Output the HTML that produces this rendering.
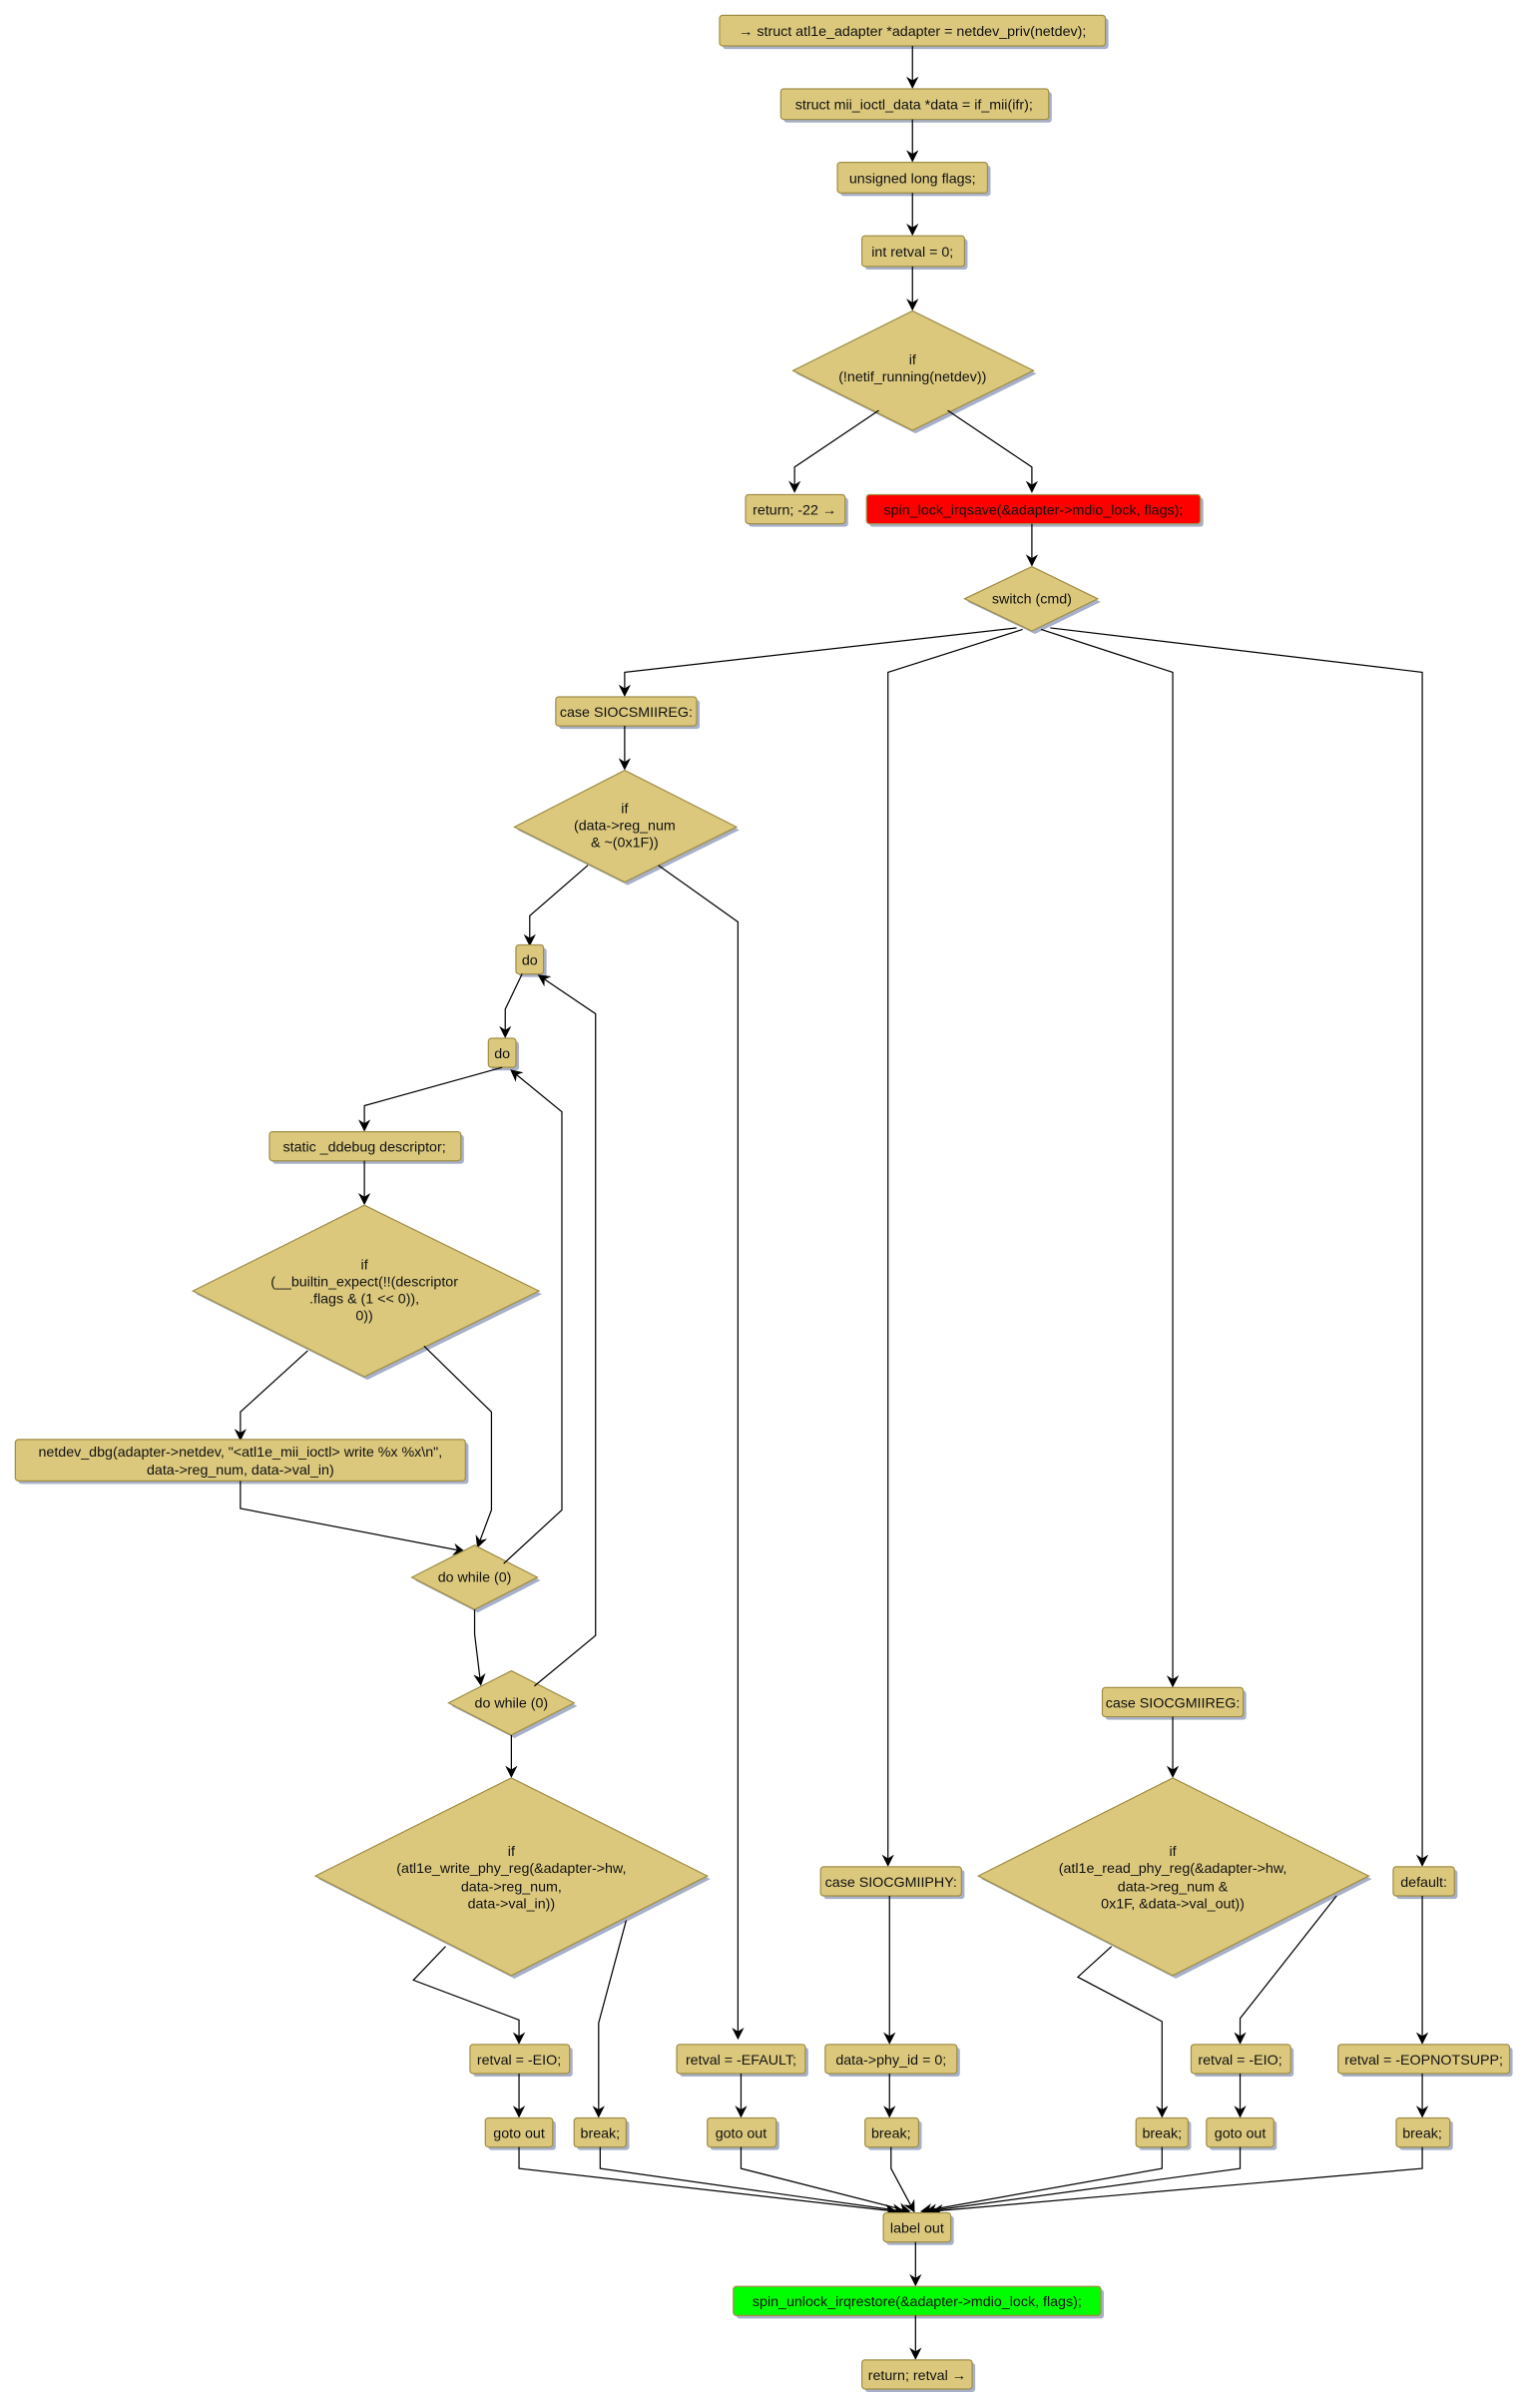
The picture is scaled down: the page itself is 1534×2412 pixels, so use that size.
<!DOCTYPE html>
<html><head><meta charset="utf-8"><style>
html,body{margin:0;padding:0;background:#fff;}
svg{display:block;}
text{font-family:"Liberation Sans","DejaVu Sans",sans-serif;font-size:9.3px;fill:#111;text-anchor:middle;}
.b{fill:#dbc87d;stroke:#a08e46;stroke-width:0.8;}
.sh{fill:#a7b0c8;}
.e{fill:none;stroke:#000;stroke-width:0.8;marker-end:url(#a);}
.n{fill:none;stroke:#000;stroke-width:0.8;}
</style></head><body>
<svg width="1534" height="2412" viewBox="0 0 1000 1572.4" xmlns="http://www.w3.org/2000/svg">
<defs><marker id="a" markerWidth="8" markerHeight="8" refX="7" refY="4" orient="auto" markerUnits="userSpaceOnUse"><path d="M0,0 L8,4 L0,8 L2.5,4 z" fill="#000"/></marker></defs>

<rect class="sh" x="472" y="12" width="252" height="20" rx="2"/><rect class="b" x="470" y="10" width="252" height="20" rx="2"/><text x="596" y="23.5">→ struct atl1e_adapter *adapter = netdev_priv(netdev);</text>
<path class="e" d="M596,30 V57"/>
<rect class="sh" x="512" y="60" width="175" height="20" rx="2"/><rect class="b" x="510" y="58" width="175" height="20" rx="2"/><text x="597" y="71.5">struct mii_ioctl_data *data = if_mii(ifr);</text>
<path class="e" d="M596,78 V105"/>
<rect class="sh" x="549" y="108" width="98" height="20" rx="2"/><rect class="b" x="547" y="106" width="98" height="20" rx="2"/><text x="596" y="119.5">unsigned long flags;</text>
<path class="e" d="M596,126 V153"/>
<rect class="sh" x="565" y="156" width="67" height="20" rx="2"/><rect class="b" x="563" y="154" width="67" height="20" rx="2"/><text x="596" y="167.5">int retval = 0;</text>
<path class="e" d="M596,174 V202"/>
<polygon class="sh" points="598,205 677,244 598,283 520,244"/><polygon class="b" points="596,203 675,242 596,281 518,242"/>
<text x="596" y="238">if</text><text x="596" y="249">(!netif_running(netdev))</text>
<path class="e" d="M574,268 L519,305 V321"/>
<path class="e" d="M619,268 L674,305 V321"/>
<rect class="sh" x="489" y="325" width="65" height="19" rx="2"/><rect class="b" x="487" y="323" width="65" height="19" rx="2"/><text x="519" y="336">return; -22 →</text>
<rect class="sh" x="568" y="325" width="218" height="19" rx="2"/><rect x="566" y="323" width="218" height="19" rx="2" fill="#ff0000" stroke="#a08e46" stroke-width="0.8"/><text x="675" y="336">spin_lock_irqsave(&amp;adapter-&gt;mdio_lock, flags);</text>
<path class="e" d="M674,342 V369"/>
<polygon class="sh" points="676,372 719,393 676,414 632,393"/><polygon class="b" points="674,370 717,391 674,412 630,391"/>
<text x="674" y="394">switch (cmd)</text>
<path class="e" d="M664,410 L408,439 V454"/>
<path class="e" d="M668,411 L580,439 V1218"/>
<path class="e" d="M680,411 L766,439 V1101"/>
<path class="e" d="M686,410 L929,439 V1218"/>

<rect class="sh" x="365" y="457" width="92" height="19" rx="2"/><rect class="b" x="363" y="455" width="92" height="19" rx="2"/><text x="409" y="468">case SIOCSMIIREG:</text>
<path class="e" d="M408,474 V502"/>
<polygon class="sh" points="410,505 483,542 410,578 338,542"/><polygon class="b" points="408,503 481,540 408,576 336,540"/>
<text x="408" y="531">if</text><text x="408" y="542">(data-&gt;reg_num</text><text x="408" y="553">&amp; ~(0x1F))</text>
<path class="e" d="M384,565 L346,598 V617"/>
<path class="e" d="M430,565 L482,602 V1331"/>
<rect class="sh" x="339" y="619" width="18" height="19" rx="2"/><rect class="b" x="337" y="617" width="18" height="19" rx="2"/><text x="346" y="630">do</text>
<path class="e" d="M341,636 L330,659 V677"/>
<rect class="sh" x="321" y="680" width="18" height="19" rx="2"/><rect class="b" x="319" y="678" width="18" height="19" rx="2"/><text x="328" y="691">do</text>
<path class="e" d="M328,697 L238,722 V738"/>
<rect class="sh" x="178" y="741" width="125" height="19" rx="2"/><rect class="b" x="176" y="739" width="125" height="19" rx="2"/><text x="238" y="752">static _ddebug descriptor;</text>
<path class="e" d="M238,758 V786"/>
<polygon class="sh" points="240,789 354,845 240,901 128,845"/><polygon class="b" points="238,787 352,843 238,899 126,843"/>
<text x="238" y="829">if</text><text x="238" y="840">(__builtin_expect(!!(descriptor</text><text x="238" y="851">.flags &amp; (1 &lt;&lt; 0)),</text><text x="238" y="862">0))</text>
<path class="e" d="M201,882 L157,922 V940"/>
<path class="e" d="M277,879 L321,922 V986 L312,1010"/>
<rect class="sh" x="12" y="942" width="294" height="27" rx="2"/><rect class="b" x="10" y="940" width="294" height="27" rx="2"/>
<text x="157" y="951">netdev_dbg(adapter-&gt;netdev, "&lt;atl1e_mii_ioctl&gt; write %x %x\n",</text><text x="157" y="963">data-&gt;reg_num, data-&gt;val_in)</text>
<path class="e" d="M157,967 V985 L303,1013"/>
<polygon class="sh" points="312,1011 353,1032 312,1053 271,1032"/><polygon class="b" points="310,1009 351,1030 310,1051 269,1030"/>
<text x="310" y="1033">do while (0)</text>
<path class="e" d="M329,1021 L367,986 V726 L334,699"/>
<path class="e" d="M310,1051 V1067 L314,1100"/>
<polygon class="sh" points="336,1093 377,1114 336,1135 295,1114"/><polygon class="b" points="334,1091 375,1112 334,1133 293,1112"/>
<text x="334" y="1115">do while (0)</text>
<path class="e" d="M349,1101 L389,1068 V662 L352,637"/>
<path class="e" d="M334,1133 V1160"/>
<polygon class="sh" points="336,1163 464,1227 336,1292 208,1227"/><polygon class="b" points="334,1161 462,1225 334,1290 206,1225"/>
<text x="334" y="1212">if</text><text x="334" y="1223">(atl1e_write_phy_reg(&amp;adapter-&gt;hw,</text><text x="334" y="1235">data-&gt;reg_num,</text><text x="334" y="1246">data-&gt;val_in))</text>
<path class="e" d="M291,1271 L270,1293 L339,1319 V1334"/>
<path class="e" d="M409,1254 L391,1321 V1382"/>
<rect class="sh" x="309" y="1337" width="65" height="19" rx="2"/><rect class="b" x="307" y="1335" width="65" height="19" rx="2"/><text x="339" y="1348">retval = -EIO;</text>
<path class="e" d="M339,1354 V1382"/>
<rect class="sh" x="319" y="1385" width="44" height="19" rx="2"/><rect class="b" x="317" y="1383" width="44" height="19" rx="2"/><text x="339" y="1396">goto out</text>
<rect class="sh" x="377" y="1385" width="34" height="19" rx="2"/><rect class="b" x="375" y="1383" width="34" height="19" rx="2"/><text x="392" y="1396">break;</text>

<rect class="sh" x="444" y="1337" width="84" height="19" rx="2"/><rect class="b" x="442" y="1335" width="84" height="19" rx="2"/><text x="484" y="1348">retval = -EFAULT;</text>
<path class="e" d="M484,1354 V1382"/>
<rect class="sh" x="464" y="1385" width="45" height="19" rx="2"/><rect class="b" x="462" y="1383" width="45" height="19" rx="2"/><text x="484" y="1396">goto out</text>

<rect class="sh" x="538" y="1221" width="92" height="19" rx="2"/><rect class="b" x="536" y="1219" width="92" height="19" rx="2"/><text x="582" y="1232">case SIOCGMIIPHY:</text>
<path class="e" d="M581,1238 V1334"/>
<rect class="sh" x="541" y="1337" width="86" height="19" rx="2"/><rect class="b" x="539" y="1335" width="86" height="19" rx="2"/><text x="582" y="1348">data-&gt;phy_id = 0;</text>
<path class="e" d="M581,1354 V1382"/>
<rect class="sh" x="567" y="1385" width="35" height="19" rx="2"/><rect class="b" x="565" y="1383" width="35" height="19" rx="2"/><text x="582" y="1396">break;</text>

<rect class="sh" x="722" y="1104" width="92" height="19" rx="2"/><rect class="b" x="720" y="1102" width="92" height="19" rx="2"/><text x="766" y="1115">case SIOCGMIIREG:</text>
<path class="e" d="M766,1121 V1160"/>
<polygon class="sh" points="768,1163 896,1227 768,1292 641,1227"/><polygon class="b" points="766,1161 894,1225 766,1290 639,1225"/>
<text x="766" y="1212">if</text><text x="766" y="1223">(atl1e_read_phy_reg(&amp;adapter-&gt;hw,</text><text x="766" y="1235">data-&gt;reg_num &amp;</text><text x="766" y="1246">0x1F, &amp;data-&gt;val_out))</text>
<path class="e" d="M726,1271 L704,1291 L759,1320 V1382"/>
<path class="e" d="M873,1238 L810,1318 V1334"/>
<rect class="sh" x="780" y="1337" width="65" height="19" rx="2"/><rect class="b" x="778" y="1335" width="65" height="19" rx="2"/><text x="810" y="1348">retval = -EIO;</text>
<path class="e" d="M810,1354 V1382"/>
<rect class="sh" x="744" y="1385" width="34" height="19" rx="2"/><rect class="b" x="742" y="1383" width="34" height="19" rx="2"/><text x="759" y="1396">break;</text>
<rect class="sh" x="790" y="1385" width="44" height="19" rx="2"/><rect class="b" x="788" y="1383" width="44" height="19" rx="2"/><text x="810" y="1396">goto out</text>

<rect class="sh" x="912" y="1221" width="40" height="19" rx="2"/><rect class="b" x="910" y="1219" width="40" height="19" rx="2"/><text x="930" y="1232">default:</text>
<path class="e" d="M929,1238 V1334"/>
<rect class="sh" x="876" y="1337" width="112" height="19" rx="2"/><rect class="b" x="874" y="1335" width="112" height="19" rx="2"/><text x="930" y="1348">retval = -EOPNOTSUPP;</text>
<path class="e" d="M929,1354 V1382"/>
<rect class="sh" x="914" y="1385" width="35" height="19" rx="2"/><rect class="b" x="912" y="1383" width="35" height="19" rx="2"/><text x="929" y="1396">break;</text>

<path class="e" d="M339,1402 V1416 L585,1444"/>
<path class="e" d="M392,1402 V1416 L590,1444"/>
<path class="e" d="M484,1402 V1416 L594,1444"/>
<path class="e" d="M582,1402 V1416 L597,1444"/>
<path class="e" d="M759,1402 V1416 L602,1444"/>
<path class="e" d="M810,1402 V1416 L605,1444"/>
<path class="e" d="M929,1402 V1416 L609,1444"/>
<rect class="sh" x="579" y="1447" width="44" height="19" rx="2"/><rect class="b" x="577" y="1445" width="44" height="19" rx="2"/><text x="599" y="1458">label out</text>
<path class="e" d="M598,1464 V1492"/>
<rect class="sh" x="481" y="1495" width="240" height="19" rx="2"/><rect x="479" y="1493" width="240" height="19" rx="2" fill="#00ff00" stroke="#a08e46" stroke-width="0.8"/><text x="599" y="1506">spin_unlock_irqrestore(&amp;adapter-&gt;mdio_lock, flags);</text>
<path class="e" d="M598,1512 V1540"/>
<rect class="sh" x="565" y="1543" width="72" height="19" rx="2"/><rect class="b" x="563" y="1541" width="72" height="19" rx="2"/><text x="599" y="1554">return; retval →</text>
</svg>
</body></html>
